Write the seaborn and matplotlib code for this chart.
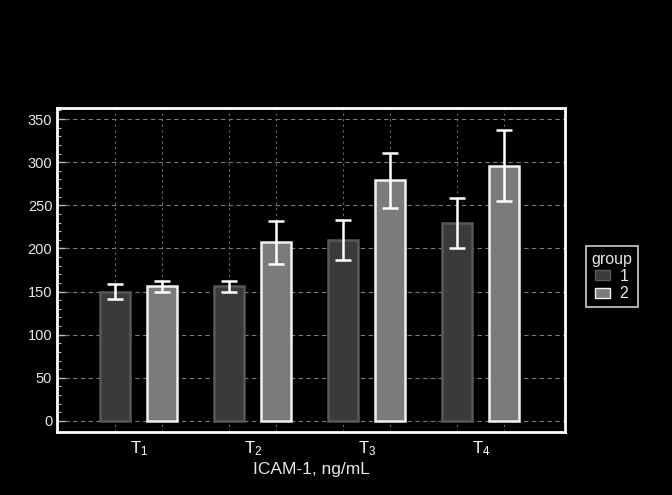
import numpy as np
import pandas as pd
import matplotlib
matplotlib.use("Agg")
import matplotlib.pyplot as plt
import seaborn as sns

# values
timepoints = ["T1", "T2", "T3", "T4"]
tick_labels = [r"$\mathregular{T_1}$", r"$\mathregular{T_2}$",
               r"$\mathregular{T_3}$", r"$\mathregular{T_4}$"]
groups = ["1", "2"]
mean_g1 = [150, 156, 210, 230]
mean_g2 = [156, 207, 279, 296]
err_g1 = [9, 6, 23, 29]
err_g2 = [6, 25, 32, 41]

df = pd.DataFrame({
    "time": timepoints * 2,
    "group": [groups[0]] * 4 + [groups[1]] * 4,
    "value": mean_g1 + mean_g2,
    "err": err_g1 + err_g2,
})

sns.set_style("dark")
plt.rcParams["font.family"] = ["Liberation Sans", "DejaVu Sans"]

fig = plt.figure(figsize=(6.72, 4.95), dpi=100, facecolor="black")
ax = fig.add_axes([0.085, 0.127, 0.756, 0.655])
ax.set_facecolor("black")

face_cols = {"1": "#3a3a3a", "2": "#7b7b7b"}
edge_cols = {"1": "#585858", "2": "#f2f2f2"}

sns.barplot(data=df, x="time", y="value", hue="group", order=timepoints,
            hue_order=groups, palette=face_cols, width=0.825, gap=0.36,
            errorbar=None, ax=ax, zorder=3, legend=True)

# color edges + collect bar centres
centres = []
for cont, g in zip(ax.containers, groups):
    sub = df[df["group"] == g].set_index("time").loc[timepoints]
    xs = []
    for bar in cont:
        bar.set_edgecolor(edge_cols[g])
        bar.set_linewidth(1.8)
        xs.append(bar.get_x() + bar.get_width() / 2)
    centres.extend(xs)
    ax.errorbar(xs, sub["value"], yerr=sub["err"], fmt="none",
                ecolor="white", elinewidth=1.8, capsize=5.5, capthick=1.8,
                zorder=4)

for xc in centres:
    ax.axvline(xc, color="#6a6a6a", ls=(0, (2, 3)), lw=0.8, zorder=1)

ax.set_ylim(-13, 363)
ax.set_xlim(-0.715, 3.74)
ax.set_yticks(np.arange(0, 351, 50))
ax.set_yticks(np.arange(0, 361, 10), minor=True)
ax.yaxis.grid(True, which="major", color="#7a7a7a", ls=(0, (4, 3)), lw=0.8)
ax.xaxis.grid(False)
ax.set_axisbelow(True)

ax.set_xticks(range(len(timepoints)))
ax.set_xticklabels(tick_labels)
ax.tick_params(axis="x", length=0, colors="white", labelsize=12, pad=5)
ax.tick_params(axis="y", which="major", direction="in", length=6, width=1,
               color="#bbbbbb", labelcolor="#e8e8e8", labelsize=10.5, left=True)
ax.tick_params(axis="y", which="minor", direction="in", length=3, width=0.8,
               color="#bbbbbb", left=True)

for s in ax.spines.values():
    s.set_visible(True)
    s.set_color("white")
    s.set_linewidth(2)

ax.set_xlabel("ICAM-1, ng/mL", color="#e8e8e8", fontsize=12.5, labelpad=3)
ax.set_ylabel("")

leg = ax.legend(title="group", loc="center left", bbox_to_anchor=(1.025, 0.48),
                frameon=True, fancybox=False, fontsize=11.5, title_fontsize=11.5,
                handlelength=0.9, handleheight=0.6, borderpad=0.35,
                labelspacing=0.15, handletextpad=0.6)
leg.get_frame().set_facecolor("black")
leg.get_frame().set_edgecolor("white")
leg.get_frame().set_linewidth(1.2)
leg.get_title().set_color("#e8e8e8")
for t in leg.get_texts():
    t.set_color("#e8e8e8")
for h, g in zip(leg.legend_handles, groups):
    h.set_edgecolor(edge_cols[g])

fig.savefig("out.png", dpi=100, facecolor="black")
